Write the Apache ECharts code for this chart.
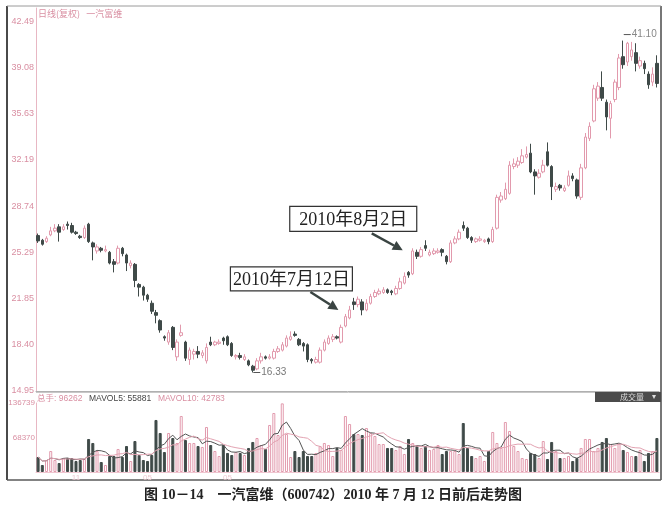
<!DOCTYPE html>
<html><head><meta charset="utf-8">
<script src="https://cdn.jsdelivr.net/npm/echarts@6/dist/echarts.min.js"></script>
<style>html,body{margin:0;padding:0;background:#fff}#c{width:667px;height:512px}</style>
</head><body><div id="c"></div>
<script>
// ---- data ----
const opens  = [26.55,26.2,26.1,26.6,26.9,27.2,27.0,27.4,27.3,26.8,26.5,26.4,27.4,26.0,25.4,25.6,25.4,25.3,24.6,24.5,25.6,25.1,24.3,24.4,22.9,22.7,22.1,21.5,20.8,20.2,19.0,18.6,19.7,17.5,19.1,18.6,17.3,17.7,17.9,17.6,17.2,18.6,18.4,18.5,18.9,19.0,18.5,17.5,17.6,17.3,17.2,16.8,16.6,17.2,17.5,17.4,17.4,17.9,18.0,18.3,18.8,19.2,18.8,18.5,18.4,17.3,17.1,17.1,18.0,18.5,18.8,19.0,18.6,19.8,20.4,21.6,21.4,21.6,21.0,21.5,22.0,22.2,22.3,22.5,22.4,22.2,22.6,23.0,23.8,23.7,25.3,25.0,25.8,25.1,25.2,25.3,25.5,25.0,24.6,26.0,26.3,27.3,27.1,26.4,26.1,26.2,26.1,26.3,26.1,27.1,29.2,29.3,29.7,31.7,31.8,32.0,32.4,32.7,31.3,30.9,31.3,32.8,31.7,30.0,30.3,29.9,30.3,31.0,30.7,29.4,31.6,33.8,35.1,36.8,37.6,36.5,35.3,36.7,37.6,39.9,39.5,39.9,40.2,39.2,39.4,38.6,38.0,39.4];
const closes = [26.15,25.9,26.35,26.9,27.1,26.8,27.2,27.3,26.8,26.7,26.4,27.1,26.1,25.7,25.7,25.45,25.5,24.5,24.4,25.6,25.2,24.5,24.5,23.2,22.7,22.1,21.8,20.9,20.6,19.5,18.9,19.3,18.2,18.6,19.3,17.4,18.0,17.9,17.7,17.8,18.2,18.4,18.6,18.6,18.7,18.4,17.6,17.6,17.45,17.5,16.9,16.5,17.2,17.5,17.4,17.5,17.9,18.1,18.4,18.9,19.0,19.1,18.4,18.3,17.3,17.2,17.3,18.0,18.6,18.9,19.0,18.9,19.7,20.5,21.0,21.4,21.8,21.0,21.5,22.0,22.3,22.4,22.5,22.3,22.3,22.6,23.1,23.5,23.6,25.4,25.0,25.5,25.6,25.3,25.4,25.4,25.3,24.6,26.0,26.3,26.8,27.1,26.4,26.2,26.3,26.3,26.2,26.1,27.0,29.4,29.5,30.0,31.8,31.9,32.1,32.5,32.6,31.3,31.0,31.2,31.8,31.8,30.2,30.2,30.1,30.1,31.0,30.8,29.5,31.6,33.9,34.7,37.5,37.7,36.8,35.4,36.4,38.0,39.8,39.3,40.9,40.4,39.4,39.6,39.0,37.8,38.6,37.9];
const lows   = [26.0,25.8,26.0,26.5,26.8,26.1,26.9,27.0,26.7,26.6,26.3,26.3,26.0,24.7,25.2,25.3,25.3,24.4,23.8,24.4,25.0,23.9,24.1,22.7,22.0,21.7,21.6,20.7,20.0,19.3,18.7,18.4,18.0,17.2,19.0,17.2,16.9,17.3,17.4,17.4,17.0,18.3,18.3,18.4,18.4,18.3,17.5,17.3,17.3,17.2,16.8,16.33,16.5,17.0,17.3,17.3,17.3,17.8,17.9,18.2,18.7,19.0,18.3,17.9,17.1,17.0,17.0,17.0,17.9,18.4,18.6,18.8,18.5,19.7,20.3,21.0,21.2,20.6,20.9,21.4,21.9,22.1,22.2,22.2,22.1,22.1,22.5,22.9,23.4,23.6,24.8,24.9,25.4,25.0,25.1,25.2,25.0,24.4,24.5,25.9,26.2,26.9,26.3,26.0,26.0,26.1,26.0,25.9,26.0,27.0,29.0,29.2,29.6,31.5,31.6,31.9,32.3,31.2,29.6,30.8,31.2,31.7,29.2,29.8,29.9,29.8,30.2,30.6,29.3,29.2,31.5,33.6,35.0,36.6,36.6,34.4,33.8,36.5,37.4,39.0,39.2,39.6,38.8,39.0,38.6,37.5,37.7,37.6];
const highs  = [26.7,26.3,26.5,27.2,27.4,27.4,27.4,27.6,27.5,26.9,26.6,27.3,27.5,26.1,25.9,25.7,25.8,25.4,24.8,25.8,25.7,25.2,24.7,24.5,23.0,22.8,22.2,21.7,21.0,20.3,19.1,19.5,19.8,18.8,19.9,18.7,18.2,18.1,18.3,18.0,18.5,19.0,18.7,18.8,19.0,19.1,18.6,17.7,17.8,17.7,17.3,16.9,17.4,17.8,17.6,17.7,18.1,18.3,18.6,19.1,19.4,19.4,18.9,18.6,18.5,17.4,17.5,18.2,18.8,19.1,19.2,19.1,19.9,20.7,21.3,21.9,22.0,21.8,21.8,22.2,22.5,22.6,22.7,22.6,22.5,22.8,23.4,23.8,23.9,25.6,25.5,25.7,26.2,25.5,25.6,25.6,25.6,25.1,26.2,26.5,27.0,27.6,27.2,26.5,26.4,26.5,26.3,26.4,27.2,29.6,29.8,30.5,32.1,32.3,32.4,33.0,33.2,33.4,31.5,31.5,32.2,33.5,31.8,30.5,30.4,30.3,31.4,31.2,30.8,31.9,34.2,35.0,37.8,38.0,38.8,36.7,36.6,38.2,40.1,41.1,41.0,41.0,40.9,39.9,39.6,38.8,39.1,40.0];
const volumes = [29700,13900,23800,41600,23800,17800,27700,27700,27700,21800,23800,25800,65400,57500,41600,19800,13900,31700,31700,45600,29700,51500,21800,61400,33700,23800,21800,33700,103100,77300,39600,77300,67400,57500,111000,63400,57500,57500,51500,49600,89200,53500,41600,31700,53500,37700,33700,39600,37700,33700,47600,59500,67400,53500,45600,93200,116900,73300,136000,75300,29700,41600,29700,41600,31700,31700,37700,51500,57500,53500,31700,47600,43600,111000,95100,75300,75300,73300,87200,77300,71400,55500,55500,47600,47600,43600,51500,35700,65400,57500,51500,47600,51500,43600,45600,53500,35700,41600,41600,41600,35700,97100,47600,31700,27700,31700,21800,41600,79300,57500,47600,99100,81300,51500,41600,27700,25800,37700,35700,27700,61400,25800,59500,41600,27700,27700,31700,21800,27700,47600,65400,65400,41600,47600,59500,67400,55500,47600,55500,43600,39600,31700,31700,43600,21800,37700,41600,67400];
const priceTicks = [14.95,18.40,21.85,25.29,28.74,32.19,35.63,39.08,42.49];
const volTicks = [68370,136739];
const xTickIdx = [9,26,45];
const xTickText = ['11','05','05'];
const lowMark = {idx:51, value:16.33, text:'16.33'};
const highMark = {idx:139, value:41.10, text:'41.10'};
const notes = [
  {idx:89, text:'2010年8月2日'},
  {idx:73, text:'2010年7月12日'}
];
const headerTexts = ['总手: 96262','MAVOL5: 55881','MAVOL10: 42783'];
const titleText = '日线(复权)   一汽富维';
const captionText = '图 10－14　一汽富维（600742）2010 年 7 月 12 日前后走势图';

// ---- derived ----
const categories = opens.map((_, i) => String(i));
const candles = opens.map((o, i) => [o, closes[i], lows[i], highs[i]]);
function movingAvg(arr, n) {
  return arr.map((_, i) => {
    const s = Math.max(0, i - n + 1);
    const part = arr.slice(s, i + 1);
    return part.reduce((a, b) => a + b, 0) / part.length;
  });
}
const ma5 = movingAvg(volumes, 5);
const ma10 = movingAvg(volumes, 10);

const PINK = '#e29aad';
const DARK = '#3f4a48';
const LABEL = '#d98fa2';

const volData = volumes.map((v, i) => {
  const up = closes[i] >= opens[i];
  return {value: v, itemStyle: {color: up ? 'rgba(255,255,255,0)' : DARK, borderColor: up ? PINK : DARK, borderWidth: 1}};
});

const chart = echarts.init(document.getElementById('c'));
const GL = 36, GR = 8;
const option = {
  animation: false,
  backgroundColor: '#fff',
  grid: [
    {left: GL, right: GR, top: 8, height: 383},
    {left: GL, right: GR, top: 403, height: 69}
  ],
  xAxis: [
    {type: 'category', gridIndex: 0, data: categories, boundaryGap: true,
     axisLine: {show: true, lineStyle: {color: '#b0b0b0'}}, axisTick: {show: false}, axisLabel: {show: false}, splitLine: {show: false}},
    {type: 'category', gridIndex: 1, data: categories, boundaryGap: true,
     axisLine: {show: true, lineStyle: {color: '#efc6d0'}}, axisTick: {show: false},
     axisLabel: {show: true, color: '#efc9d2', fontSize: 8, margin: 2,
       interval: (i) => xTickIdx.indexOf(i) >= 0,
       formatter: (v, i) => { const k = xTickIdx.indexOf(i); return k >= 0 ? xTickText[k] : ''; }},
     splitLine: {show: false}}
  ],
  yAxis: [
    {type: 'value', gridIndex: 0, min: 14.95, max: 43.53, scale: true,
     axisLine: {show: true, lineStyle: {color: '#e8b7c3'}}, axisTick: {show: false},
     axisLabel: {color: LABEL, fontSize: 9, margin: 2, customValues: priceTicks, formatter: (v) => v.toFixed(2)},
     splitLine: {show: false}},
    {type: 'value', gridIndex: 1, min: 0, max: 136739,
     axisLine: {show: true, lineStyle: {color: '#e8b7c3'}}, axisTick: {show: false},
     axisLabel: {color: LABEL, fontSize: 8, margin: 1, customValues: volTicks, formatter: (v) => String(v)},
     splitLine: {show: false}}
  ],
  series: [
    {type: 'candlestick', xAxisIndex: 0, yAxisIndex: 0, data: candles, barWidth: 3,
     itemStyle: {color: '#ffffff', color0: DARK, borderColor: PINK, borderColor0: DARK, borderWidth: 1},
     markPoint: {
       symbol: 'rect', symbolSize: [7, 1], silent: true,
       data: [
         {coord: [lowMark.idx, lowMark.value], symbolOffset: [4, 0], itemStyle: {color: '#555'},
          label: {show: true, position: 'right', distance: 1, formatter: lowMark.text, color: '#777', fontSize: 10, fontFamily: 'Arial, sans-serif'}},
         {coord: [highMark.idx, highMark.value], symbolOffset: [4, -6], itemStyle: {color: '#555'},
          label: {show: true, position: 'right', distance: 1, formatter: highMark.text, color: '#888', fontSize: 10, fontFamily: 'Arial, sans-serif'}}
       ]
     }},
    {type: 'bar', xAxisIndex: 1, yAxisIndex: 1, data: volData, barWidth: 3, silent: true},
    {type: 'line', xAxisIndex: 1, yAxisIndex: 1, data: ma5, symbol: 'none', lineStyle: {color: '#555', width: 1}, silent: true},
    {type: 'line', xAxisIndex: 1, yAxisIndex: 1, data: ma10, symbol: 'none', lineStyle: {color: '#e3a3b2', width: 1}, silent: true}
  ]
};
chart.setOption(option);

// ---- annotations anchored to the data ----
const g = [];
g.push({type: 'line', shape: {x1: 7, y1: 6, x2: 7, y2: 480}, style: {stroke: '#4a4a4a', lineWidth: 2}});
g.push({type: 'line', shape: {x1: 661, y1: 6, x2: 661, y2: 480}, style: {stroke: '#4a4a4a', lineWidth: 1.5}});
g.push({type: 'line', shape: {x1: 7, y1: 6, x2: 661, y2: 6}, style: {stroke: '#9a9a9a', lineWidth: 1}});
g.push({type: 'line', shape: {x1: 7, y1: 480, x2: 661, y2: 480}, style: {stroke: '#5a5a5a', lineWidth: 1.5}});
g.push({type: 'line', shape: {x1: 36, y1: 392.5, x2: 661, y2: 392.5}, style: {stroke: '#c8c8c8', lineWidth: 1}});
g.push({type: 'text', x: 38, y: 9, style: {text: titleText, fill: LABEL, fontSize: 9, fontFamily: '"Noto Sans CJK SC", sans-serif'}});
// volume header as one rich text line
g.push({type: 'text', x: 37, y: 393, style: {
  text: '{a|' + headerTexts[0] + '}  {b|' + headerTexts[1] + '}  {a|' + headerTexts[2] + '}',
  rich: {a: {fill: LABEL, fontSize: 8.5, fontFamily: 'Arial, "Noto Sans CJK SC", sans-serif'},
         b: {fill: '#444', fontSize: 8.5, fontFamily: 'Arial, "Noto Sans CJK SC", sans-serif'}}
}});
g.push({type: 'rect', shape: {x: 595, y: 392, width: 66, height: 10}, style: {fill: '#4b4b4b'}});
g.push({type: 'text', x: 620, y: 392.5, style: {text: '成交量', fill: '#ddd', fontSize: 8, fontFamily: '"Noto Sans CJK SC", sans-serif'}});
g.push({type: 'text', x: 652, y: 392.5, style: {text: '▾', fill: '#ddd', fontSize: 8}});
g.push({type: 'text', x: 333, y: 495, style: {text: captionText, fill: '#222', fontSize: 14, fontWeight: 'bold', align: 'center', verticalAlign: 'middle', fontFamily: '"Liberation Serif", "Noto Sans CJK SC", serif'}});

const boxSpec = [
  {dx: -113, dy: -44, w: 127, h: 25, tail: [-31, -17], tipOff: [-10, 2]},
  {dx: -108, dy: -43, w: 122, h: 24, tail: [-28, -18], tipOff: [-7, -4]}
];
notes.forEach((n, k) => {
  const s = boxSpec[k];
  const p = chart.convertToPixel({xAxisIndex: 0, yAxisIndex: 0}, [n.idx, highs[n.idx]]);
  const tip = [p[0] + s.tipOff[0], p[1] + s.tipOff[1]];
  const bx = tip[0] + s.dx, by = tip[1] + s.dy;
  g.push({type: 'rect', shape: {x: bx, y: by, width: s.w, height: s.h}, style: {fill: '#fff', stroke: '#333', lineWidth: 1.2}});
  g.push({type: 'text', x: bx + s.w / 2, y: by + s.h / 2 + 1, style: {text: n.text, fill: '#222', fontSize: 18, align: 'center', verticalAlign: 'middle', fontFamily: '"Liberation Serif", "Noto Sans CJK SC", serif'}});
  const tail = [tip[0] + s.tail[0], tip[1] + s.tail[1]];
  const dxv = tip[0] - tail[0], dyv = tip[1] - tail[1];
  const L = Math.sqrt(dxv * dxv + dyv * dyv);
  const ux = dxv / L, uy = dyv / L, px = -uy, py = ux;
  const base = [tip[0] - ux * 10, tip[1] - uy * 10];
  g.push({type: 'line', shape: {x1: tail[0], y1: tail[1], x2: base[0], y2: base[1]}, style: {stroke: '#3a4442', lineWidth: 2.5}});
  g.push({type: 'polygon', shape: {points: [tip, [base[0] + px * 5, base[1] + py * 5], [base[0] - px * 5, base[1] - py * 5]]}, style: {fill: '#3a4442'}});
});
chart.setOption({graphic: g});
</script>
</body></html>
